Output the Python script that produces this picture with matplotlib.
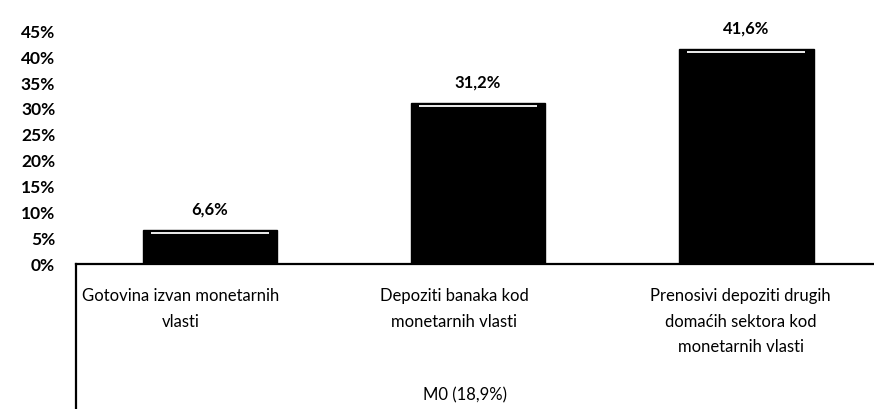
import matplotlib.pyplot as plt
import numpy as np

plt.rcParams['font.family'] = ['Lato', 'DejaVu Sans']

categories = ['Gotovina izvan monetarnih\nvlasti',
              'Depoziti banaka kod\nmonetarnih vlasti',
              'Prenosivi depoziti drugih\ndomaćih sektora kod\nmonetarnih vlasti']
values = [6.6, 31.2, 41.6]
value_labels = ['6,6%', '31,2%', '41,6%']
group_label = 'M0 (18,9%)'
yticks = [0, 5, 10, 15, 20, 25, 30, 35, 40, 45]

fig = plt.figure(figsize=(8.74, 4.09), dpi=100)
ax = fig.add_axes([0.087, 0.3545, 0.92, 0.569])

x = np.arange(len(values))
ax.bar(x, values, width=0.503, color='black', edgecolor='black', zorder=2)
# thin light streak under the top of each bar
ax.hlines(np.array(values) - 0.6, x - 0.22, x + 0.22, color='white', lw=1.3, zorder=3)

for xi, v, lab in zip(x, values, value_labels):
    ax.text(xi, v + 2.4, lab, ha='center', va='bottom', fontsize=12, fontweight='bold')

ax.set_xlim(-0.5, 2.5)
ax.set_ylim(0, 45)
ax.set_yticks(yticks)
ax.set_yticklabels([f'{t}%' for t in yticks], fontsize=12.5, fontweight='bold')
ax.tick_params(axis='y', length=0, pad=15)
ax.set_xticks([])

for s in ['top', 'right', 'left']:
    ax.spines[s].set_visible(False)
ax.spines['bottom'].set_linewidth(1.6)

# labels sit a bit left of the bar centres in the original
label_shift = [-0.11, -0.09, -0.02]
for xi, lab, dx in zip(x, categories, label_shift):
    ax.text(xi + dx, -4.6, lab, ha='center', va='top', fontsize=12, linespacing=1.75)

ax.text(0.95, -23.8, group_label, ha='center', va='top', fontsize=12)

# category separator line at the left of the multi-level axis
ax.plot([-0.5, -0.5], [0, -60], color='black', lw=1.6, clip_on=False)

fig.savefig('out.png', dpi=100)
